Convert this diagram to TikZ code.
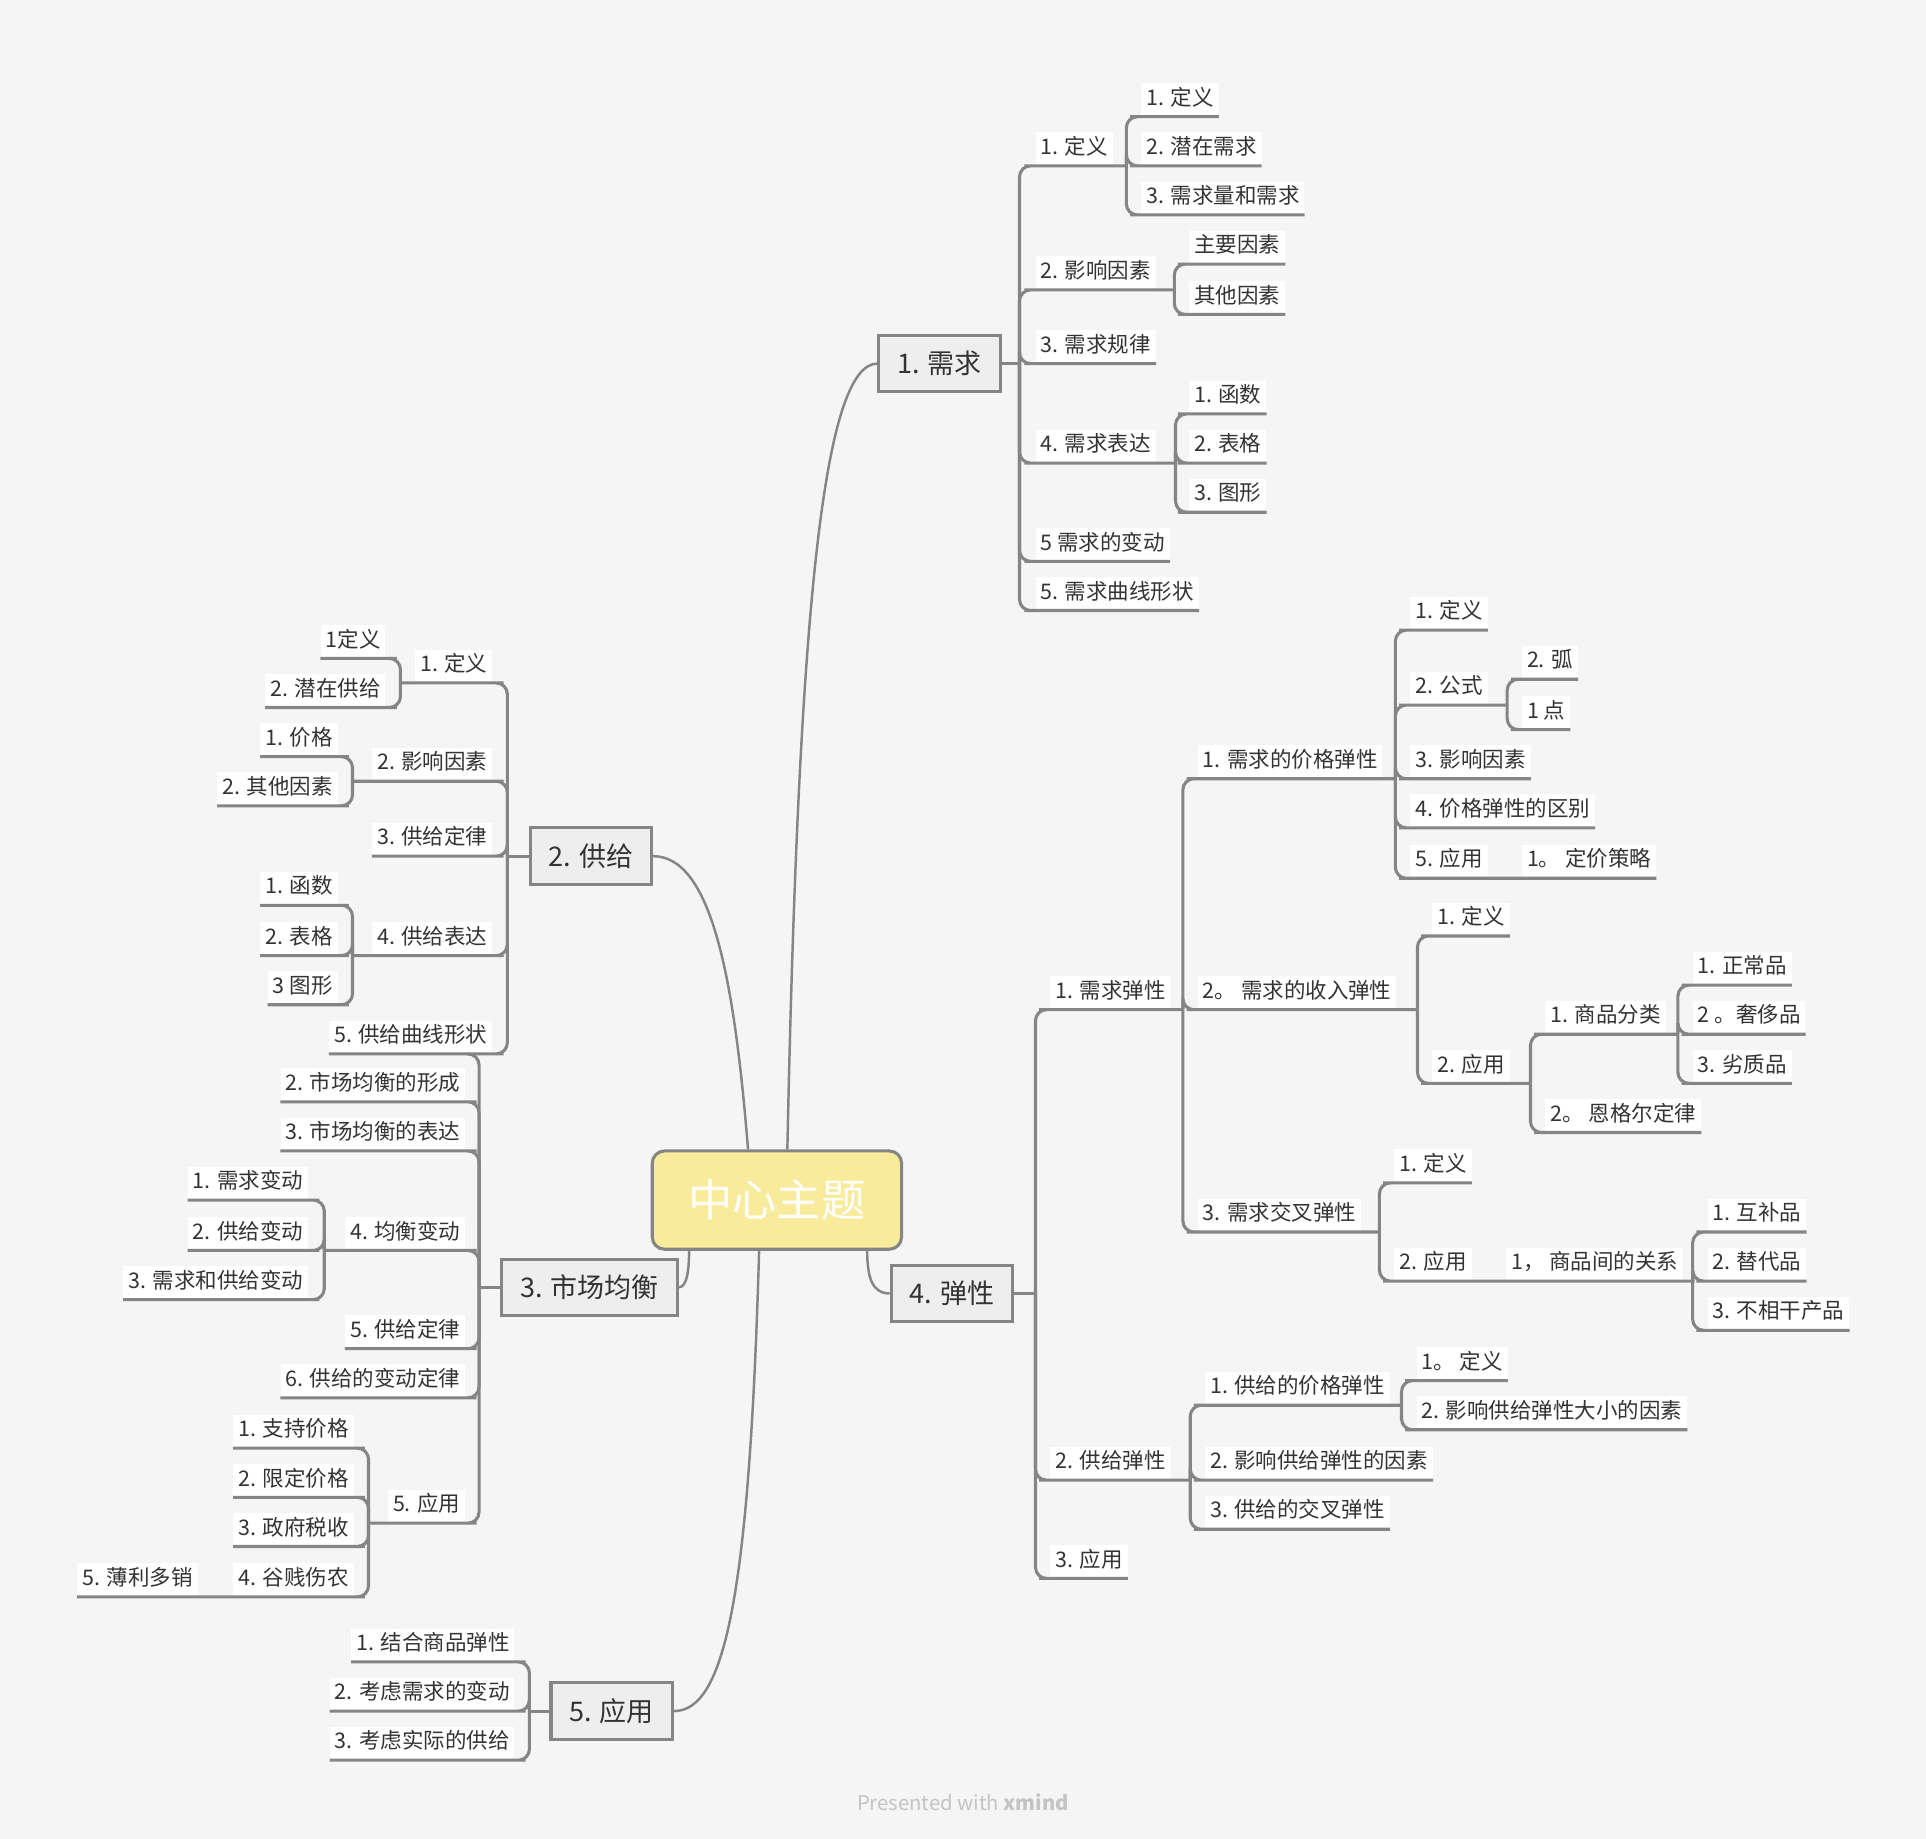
\documentclass[tikz,border=0pt]{standalone}
\usepackage{fontspec}
\setmainfont{Noto Sans CJK SC}
\definecolor{bgcol}{HTML}{F5F5F5}
\definecolor{linegray}{HTML}{858585}
\definecolor{topicfill}{HTML}{EEEEEE}
\definecolor{hubfill}{HTML}{F8EC9C}
\definecolor{inkgray}{HTML}{333333}
\definecolor{creditgray}{HTML}{C4C4C4}
\tikzset{
  leaf/.style={fill=white, inner xsep=4pt, inner ysep=0pt, minimum height=27pt,
    text height=12pt, text depth=3pt, text=inkgray, font=\fontsize{17.5}{20}\selectfont},
  leafr/.style={leaf, anchor=south west},
  leafl/.style={leaf, anchor=south east},
  topic/.style={draw=linegray, line width=2.5pt, fill=topicfill, inner xsep=15pt,
    minimum height=46pt, text=inkgray, font=\fontsize{22}{26}\selectfont},
  hub/.style={draw=linegray, line width=2.5pt, fill=hubfill, rounded corners=10pt,
    minimum width=203pt, minimum height=80pt, text=white, font=\fontsize{36}{40}\selectfont},
  conn/.style={draw=linegray, line width=2.5pt, rounded corners=9pt},
  curve/.style={draw=linegray, line width=2pt},
}
\begin{document}
\begin{tikzpicture}[x=1pt, y=-1pt]
  \fill[bgcol] (0,0) rectangle (1568,1497);
  \useasboundingbox (0,0) rectangle (1568,1497);

  % centre and main topics
  \node[hub] (hub) at (632.5,977) {中心主题};
  \node[topic] (demand) at (765,296) {1. 需求};
  \node[topic] (supply) at (481,697) {2. 供给};
  \node[topic] (equil) at (480,1048) {3. 市场均衡};
  \node[topic] (elast) at (775,1053) {4. 弹性};
  \node[topic] (apply) at (498,1393) {5. 应用};

  \draw[curve] ([xshift=8.5pt]hub.north) .. controls (650,500) and (670,296) .. (demand.west);
  \draw[curve] ([xshift=-23.5pt]hub.north) .. controls (598,800) and (580,697) .. (supply.east);
  \draw[curve] ([xshift=-71.5pt]hub.south) .. controls (561,1035) and (559,1048) .. (equil.east);
  \draw[curve] ([xshift=73.5pt]hub.south) .. controls (706,1040) and (710,1053) .. (elast.west);
  \draw[curve] ([xshift=-14.5pt]hub.south) .. controls (610,1300) and (590,1393) .. (apply.east);

  % 1. demand
  \node[leafr] (dm1) at (843,135) {1. 定义};
  \node[leafr] (dm2) at (843,236) {2. 影响因素};
  \node[leafr] (dm3) at (843,296) {3. 需求规律};
  \node[leafr] (dm4) at (843,377) {4. 需求表达};
  \node[leafr] (dm5) at (843,457) {5 需求的变动};
  \node[leafr] (dm6) at (843,497) {5. 需求曲线形状};
  \node[leafr] (dm11) at (929,95) {1. 定义};
  \node[leafr] (dm12) at (929,135) {2. 潜在需求};
  \node[leafr] (dm13) at (929,175) {3. 需求量和需求};
  \node[leafr] (dm21) at (968,215) {主要因素};
  \node[leafr] (dm22) at (968,256) {其他因素};
  \node[leafr] (dm41) at (968,337) {1. 函数};
  \node[leafr] (dm42) at (968,377) {2. 表格};
  \node[leafr] (dm43) at (968,417) {3. 图形};
  \coordinate (demandj) at (830,296);
  \coordinate (dm1j) at (917,135);
  \coordinate (dm2j) at (956,236);
  \coordinate (dm4j) at (957,377);
  \draw[conn] (demand.east) -- (demandj);
  \draw[conn] (demandj) |- (dm1.south west) -- (dm1.south east) -- (dm1j);
  \draw[conn] (demandj) |- (dm2.south west) -- (dm2.south east) -- (dm2j);
  \draw[conn] (demandj) |- (dm3.south west) -- (dm3.south east);
  \draw[conn] (demandj) |- (dm4.south west) -- (dm4.south east) -- (dm4j);
  \draw[conn] (demandj) |- (dm5.south west) -- (dm5.south east);
  \draw[conn] (demandj) |- (dm6.south west) -- (dm6.south east);
  \draw[conn] (dm1j) |- (dm11.south west) -- (dm11.south east);
  \draw[conn] (dm1j) |- (dm12.south west) -- (dm12.south east);
  \draw[conn] (dm1j) |- (dm13.south west) -- (dm13.south east);
  \draw[conn] (dm2j) |- (dm21.south west) -- (dm21.south east);
  \draw[conn] (dm2j) |- (dm22.south west) -- (dm22.south east);
  \draw[conn] (dm4j) |- (dm41.south west) -- (dm41.south east);
  \draw[conn] (dm4j) |- (dm42.south west) -- (dm42.south east);
  \draw[conn] (dm4j) |- (dm43.south west) -- (dm43.south east);

  % 2. supply
  \node[leafl] (sp1) at (401,556) {1. 定义};
  \node[leafl] (sp2) at (401,636) {2. 影响因素};
  \node[leafl] (sp3) at (401,697) {3. 供给定律};
  \node[leafl] (sp4) at (401,778) {4. 供给表达};
  \node[leafl] (sp5) at (401,858) {5. 供给曲线形状};
  \node[leafl] (sp11) at (314,536) {1定义};
  \node[leafl] (sp12) at (314,576) {2. 潜在供给};
  \node[leafl] (sp21) at (275,616) {1. 价格};
  \node[leafl] (sp22) at (275,656) {2. 其他因素};
  \node[leafl] (sp41) at (275,737) {1. 函数};
  \node[leafl] (sp42) at (275,778) {2. 表格};
  \node[leafl] (sp43) at (275,818) {3 图形};
  \coordinate (supplyj) at (413,697);
  \coordinate (sp1j) at (326,556);
  \coordinate (sp2j) at (287,636);
  \coordinate (sp4j) at (287,778);
  \draw[conn] (supply.west) -- (supplyj);
  \draw[conn] (supplyj) |- (sp1.south east) -- (sp1.south west) -- (sp1j);
  \draw[conn] (supplyj) |- (sp2.south east) -- (sp2.south west) -- (sp2j);
  \draw[conn] (supplyj) |- (sp3.south east) -- (sp3.south west);
  \draw[conn] (supplyj) |- (sp4.south east) -- (sp4.south west) -- (sp4j);
  \draw[conn] (supplyj) |- (sp5.south east) -- (sp5.south west);
  \draw[conn] (sp1j) |- (sp11.south east) -- (sp11.south west);
  \draw[conn] (sp1j) |- (sp12.south east) -- (sp12.south west);
  \draw[conn] (sp2j) |- (sp21.south east) -- (sp21.south west);
  \draw[conn] (sp2j) |- (sp22.south east) -- (sp22.south west);
  \draw[conn] (sp4j) |- (sp41.south east) -- (sp41.south west);
  \draw[conn] (sp4j) |- (sp42.south east) -- (sp42.south west);
  \draw[conn] (sp4j) |- (sp43.south east) -- (sp43.south west);

  % 3. market equilibrium
  \node[leafl] (eq2) at (379,897) {2. 市场均衡的形成};
  \node[leafl] (eq3) at (379,937) {3. 市场均衡的表达};
  \node[leafl] (eq4) at (379,1018) {4. 均衡变动};
  \node[leafl] (eq5) at (379,1098) {5. 供给定律};
  \node[leafl] (eq6) at (379,1138) {6. 供给的变动定律};
  \node[leafl] (eq7) at (379,1240) {5. 应用};
  \node[leafl] (eq41) at (251,977) {1. 需求变动};
  \node[leafl] (eq42) at (251,1018) {2. 供给变动};
  \node[leafl] (eq43) at (251,1058) {3. 需求和供给变动};
  \node[leafl] (eq71) at (288,1179) {1. 支持价格};
  \node[leafl] (eq72) at (288,1219) {2. 限定价格};
  \node[leafl] (eq73) at (288,1259) {3. 政府税收};
  \node[leafl] (eq74) at (288,1300) {4. 谷贱伤农};
  \node[leafl] (eq741) at (161,1300) {5. 薄利多销};
  \coordinate (equilj) at (390,1048);
  \coordinate (eqtop) at (380,858);
  \coordinate (eq4j) at (264,1018);
  \coordinate (eq7j) at (300,1240);
  \draw[conn] (equil.west) -- (equilj);
  \draw[conn] (equilj) |- (eqtop);
  \draw[conn] (equilj) |- (eq2.south east) -- (eq2.south west);
  \draw[conn] (equilj) |- (eq3.south east) -- (eq3.south west);
  \draw[conn] (equilj) |- (eq4.south east) -- (eq4.south west) -- (eq4j);
  \draw[conn] (equilj) |- (eq5.south east) -- (eq5.south west);
  \draw[conn] (equilj) |- (eq6.south east) -- (eq6.south west);
  \draw[conn] (equilj) |- (eq7.south east) -- (eq7.south west) -- (eq7j);
  \draw[conn] (eq4j) |- (eq41.south east) -- (eq41.south west);
  \draw[conn] (eq4j) |- (eq42.south east) -- (eq42.south west);
  \draw[conn] (eq4j) |- (eq43.south east) -- (eq43.south west);
  \draw[conn] (eq7j) |- (eq71.south east) -- (eq71.south west);
  \draw[conn] (eq7j) |- (eq72.south east) -- (eq72.south west);
  \draw[conn] (eq7j) |- (eq73.south east) -- (eq73.south west);
  \draw[conn] (eq7j) |- (eq74.south east) -- (eq74.south west) -- (eq741.south east) -- (eq741.south west);

  % 4. elasticity
  \node[leafr] (el1) at (855,822) {1. 需求弹性};
  \node[leafr] (el2) at (855,1205) {2. 供给弹性};
  \node[leafr] (el3) at (855,1285) {3. 应用};
  \node[leafr] (el11) at (975,634) {1. 需求的价格弹性};
  \node[leafr] (el12) at (975,822) {2。 需求的收入弹性};
  \node[leafr] (el13) at (975,1003) {3. 需求交叉弹性};
  \node[leafr] (el111) at (1148,513) {1. 定义};
  \node[leafr] (el112) at (1148,574) {2. 公式};
  \node[leafr] (el113) at (1148,634) {3. 影响因素};
  \node[leafr] (el114) at (1148,674) {4. 价格弹性的区别};
  \node[leafr] (el115) at (1148,715) {5. 应用};
  \node[leafr] (el1151) at (1239,715) {1。 定价策略};
  \node[leafr] (el1121) at (1239,553) {2. 弧};
  \node[leafr] (el1122) at (1239,594) {1 点};
  \node[leafr] (el121) at (1166,762) {1. 定义};
  \node[leafr] (el122) at (1166,882) {2. 应用};
  \node[leafr] (el1221) at (1258,842) {1. 商品分类};
  \node[leafr] (el1222) at (1258,922) {2。 恩格尔定律};
  \node[leafr] (el12211) at (1378,802) {1. 正常品};
  \node[leafr] (el12212) at (1378,842) {2 。奢侈品};
  \node[leafr] (el12213) at (1378,882) {3. 劣质品};
  \node[leafr] (el131) at (1135,963) {1. 定义};
  \node[leafr] (el132) at (1135,1043) {2. 应用};
  \node[leafr] (el1321) at (1226,1043) {1， 商品间的关系};
  \node[leafr] (el13211) at (1390,1003) {1. 互补品};
  \node[leafr] (el13212) at (1390,1043) {2. 替代品};
  \node[leafr] (el13213) at (1390,1083) {3. 不相干产品};
  \node[leafr] (el21) at (981,1144) {1. 供给的价格弹性};
  \node[leafr] (el22) at (981,1205) {2. 影响供给弹性的因素};
  \node[leafr] (el23) at (981,1245) {3. 供给的交叉弹性};
  \node[leafr] (el211) at (1153,1124) {1。 定义};
  \node[leafr] (el212) at (1153,1164) {2. 影响供给弹性大小的因素};
  \coordinate (elastj) at (843,1053);
  \coordinate (el1j) at (963,822);
  \coordinate (el2j) at (969,1205);
  \coordinate (el11j) at (1136,634);
  \coordinate (el12j) at (1154,822);
  \coordinate (el13j) at (1123,1003);
  \coordinate (el112j) at (1227,574);
  \coordinate (el122j) at (1246,882);
  \coordinate (el1221j) at (1366,842);
  \coordinate (el1321j) at (1378,1043);
  \coordinate (el21j) at (1141,1144);
  \draw[conn] (elast.east) -- (elastj);
  \draw[conn] (elastj) |- (el1.south west) -- (el1.south east) -- (el1j);
  \draw[conn] (elastj) |- (el2.south west) -- (el2.south east) -- (el2j);
  \draw[conn] (elastj) |- (el3.south west) -- (el3.south east);
  \draw[conn] (el1j) |- (el11.south west) -- (el11.south east) -- (el11j);
  \draw[conn] (el1j) |- (el12.south west) -- (el12.south east) -- (el12j);
  \draw[conn] (el1j) |- (el13.south west) -- (el13.south east) -- (el13j);
  \draw[conn] (el11j) |- (el111.south west) -- (el111.south east);
  \draw[conn] (el11j) |- (el112.south west) -- (el112.south east) -- (el112j);
  \draw[conn] (el11j) |- (el113.south west) -- (el113.south east);
  \draw[conn] (el11j) |- (el114.south west) -- (el114.south east);
  \draw[conn] (el11j) |- (el115.south west) -- (el115.south east) -- (el1151.south west) -- (el1151.south east);
  \draw[conn] (el112j) |- (el1121.south west) -- (el1121.south east);
  \draw[conn] (el112j) |- (el1122.south west) -- (el1122.south east);
  \draw[conn] (el12j) |- (el121.south west) -- (el121.south east);
  \draw[conn] (el12j) |- (el122.south west) -- (el122.south east) -- (el122j);
  \draw[conn] (el122j) |- (el1221.south west) -- (el1221.south east) -- (el1221j);
  \draw[conn] (el122j) |- (el1222.south west) -- (el1222.south east);
  \draw[conn] (el1221j) |- (el12211.south west) -- (el12211.south east);
  \draw[conn] (el1221j) |- (el12212.south west) -- (el12212.south east);
  \draw[conn] (el1221j) |- (el12213.south west) -- (el12213.south east);
  \draw[conn] (el13j) |- (el131.south west) -- (el131.south east);
  \draw[conn] (el13j) |- (el132.south west) -- (el132.south east) -- (el1321.south west) -- (el1321.south east) -- (el1321j);
  \draw[conn] (el1321j) |- (el13211.south west) -- (el13211.south east);
  \draw[conn] (el1321j) |- (el13212.south west) -- (el13212.south east);
  \draw[conn] (el1321j) |- (el13213.south west) -- (el13213.south east);
  \draw[conn] (el2j) |- (el21.south west) -- (el21.south east) -- (el21j);
  \draw[conn] (el2j) |- (el22.south west) -- (el22.south east);
  \draw[conn] (el2j) |- (el23.south west) -- (el23.south east);
  \draw[conn] (el21j) |- (el211.south west) -- (el211.south east);
  \draw[conn] (el21j) |- (el212.south west) -- (el212.south east);

  % 5. application
  \node[leafl] (ap1) at (419,1353) {1. 结合商品弹性};
  \node[leafl] (ap2) at (419,1393) {2. 考虑需求的变动};
  \node[leafl] (ap3) at (419,1433) {3. 考虑实际的供给};
  \coordinate (applyj) at (431,1393);
  \draw[conn] (apply.west) -- (applyj);
  \draw[conn] (applyj) |- (ap1.south east) -- (ap1.south west);
  \draw[conn] (applyj) |- (ap2.south east) -- (ap2.south west);
  \draw[conn] (applyj) |- (ap3.south east) -- (ap3.south west);

  \node[text=creditgray, font=\fontsize{16.5}{19}\selectfont] (credit) at (784,1467) {Presented with \textbf{xmind}};
\end{tikzpicture}
\end{document}
